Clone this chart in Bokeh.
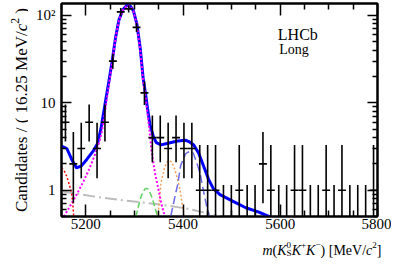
import math
from bokeh.plotting import figure
from bokeh.layouts import column, row
from bokeh.models import Label, LinearAxis, LogAxis, FixedTicker, CustomJSTickFormatter
from bokeh.embed import file_html
from bokeh.resources import INLINE

# ---------------- data ----------------
bin_lo = 5150.0
bin_width = 16.25
counts = [6, 2, 3, 6, 3, 6, 30, 110, 119, 73, 13, 4, 4, 3, 4, 3, 3, 1, 1, 1,
          0, 0, 1, 0, 0, 2, 1, 0, 0, 1, 1, 0, 0, 1, 0, 1, 0, 0, 0, 1]

total_m = [5150, 5161, 5171, 5181, 5191, 5202, 5215, 5224, 5231, 5240, 5247, 5254, 5261,
           5268, 5276, 5285, 5292, 5298, 5305, 5312, 5318, 5323, 5327, 5332, 5339, 5345,
           5355, 5369, 5389, 5405, 5412, 5422, 5432, 5442, 5452, 5462, 5476, 5502, 5529,
           5556, 5573, 5590]
total_v = [3.2, 3.0, 2.25, 1.8, 1.9, 2.25, 2.8, 3.4, 5.0, 10, 17, 29.5, 55,
           88, 116, 132, 127, 113, 80, 42, 19, 12.5, 8.6, 5.6, 4.1, 3.5,
           3.3, 3.45, 3.65, 3.73, 3.6, 3.3, 2.66, 1.9, 1.35, 1.05, 0.89, 0.75, 0.63,
           0.56, 0.51, 0.47]

signal_m = [5155, 5165, 5175, 5185, 5195, 5208, 5215, 5222, 5228, 5232, 5236, 5240, 5247,
            5254, 5261, 5268, 5276, 5285, 5292, 5298, 5305, 5312, 5318, 5323, 5327, 5331,
            5335, 5342, 5349, 5355, 5362]
signal_v = [0.5, 0.62, 0.78, 0.98, 1.25, 1.8, 2.25, 2.85, 3.6, 4.4, 5.8, 8.3, 15.5,
            28.5, 54, 87, 114, 131, 126, 112, 78, 40, 17.5, 11.6, 7.4, 4.8,
            2.9, 1.6, 1.05, 0.72, 0.51]

red_m = [5150, 5155, 5161, 5168, 5171, 5173, 5175]
red_v = [1.8, 1.69, 1.43, 1.06, 0.9, 0.73, 0.51]

comb_m = [5150, 5215, 5282, 5349, 5405, 5453, 5476]
comb_v = [0.97, 0.85, 0.76, 0.69, 0.62, 0.54, 0.5]

green_m = [5303, 5312, 5317, 5323, 5328, 5332, 5337, 5342, 5347]
green_v = [0.5, 0.79, 0.95, 1.05, 1.03, 0.94, 0.8, 0.64, 0.51]

orange_m = [5349, 5352, 5355, 5362, 5367, 5372, 5377, 5382, 5387, 5392, 5396, 5399, 5402]
orange_v = [0.54, 0.85, 1.25, 1.82, 2.1, 2.18, 2.08, 1.8, 1.45, 1.13, 0.85, 0.65, 0.52]

bdash_m = [5375, 5385, 5389, 5395, 5405, 5409, 5415, 5421, 5425, 5431, 5436, 5442, 5449, 5454]
bdash_v = [0.51, 0.93, 1.16, 1.9, 2.6, 2.7, 2.8, 2.65, 2.3, 1.85, 1.47, 0.98, 0.64, 0.51]

x_major = [5200, 5400, 5600, 5800]
x_minor = [5150, 5250, 5300, 5350, 5450, 5500, 5550, 5650, 5700, 5750]
y_major = [1, 10, 100]
y_minor = [0.5, 0.6, 0.7, 0.8, 0.9, 2, 3, 4, 5, 6, 7, 8, 9, 20, 30, 40, 50, 60, 70, 80, 90]

# ---------------- Poisson (Garwood) error bars ----------------
ALPHA = 0.158655


def pois_cdf(n, mu):
    term = math.exp(-mu)
    s = term
    for k in range(1, n + 1):
        term *= mu / k
        s += term
    return s


def solve(f, target, lo, hi):
    for _ in range(200):
        mid = 0.5 * (lo + hi)
        if f(mid) > target:
            lo = mid
        else:
            hi = mid
    return 0.5 * (lo + hi)


def interval(n):
    if n == 0:
        return 0.0, -math.log(2 * ALPHA)
    up = solve(lambda mu: pois_cdf(n, mu), ALPHA, 0.0, n + 10 * math.sqrt(n) + 10)
    lo = solve(lambda mu: pois_cdf(n - 1, mu), 1 - ALPHA, 0.0, n + 1.0)
    return lo, up


centers = [bin_lo + bin_width * (i + 0.5) for i in range(len(counts))]
ylow, yhigh = [], []
for n in counts:
    lo, up = interval(n)
    ylow.append(max(lo, 1e-3))
    yhigh.append(up)

hx0 = [c - bin_width / 2 for c, n in zip(centers, counts) if n > 0]
hx1 = [c + bin_width / 2 for c, n in zip(centers, counts) if n > 0]
hy = [n for n in counts if n > 0]

# ---------------- main figure ----------------
FONT = "Liberation Serif"
MAIN_H = 235
LEFT_W = 28
p = figure(width=391 - LEFT_W, height=MAIN_H, x_range=(5150, 5800), y_range=(0.5, 137),
           y_axis_type="log", output_backend="svg", toolbar_location=None, title=None,
           min_border_left=61 - LEFT_W, min_border_right=14, min_border_top=3,
           min_border_bottom=19)
p.xgrid.visible = False
p.ygrid.visible = False
p.outline_line_color = "black"
p.outline_line_width = 2
p.background_fill_color = "white"
p.border_fill_color = "white"

xt = FixedTicker(ticks=x_major, minor_ticks=x_minor)
yt = FixedTicker(ticks=y_major, minor_ticks=y_minor)


def style_axis(ax, ticker, maj, mnr, labels, standoff):
    ax.ticker = ticker
    ax.axis_line_color = "black"
    ax.axis_line_width = 2
    ax.major_tick_in = maj
    ax.major_tick_out = 0
    ax.minor_tick_in = mnr
    ax.minor_tick_out = 0
    ax.major_tick_line_width = 1.5
    ax.minor_tick_line_width = 1.5
    ax.major_tick_line_color = "black"
    ax.minor_tick_line_color = "black"
    ax.major_label_text_font = FONT
    ax.major_label_text_color = "black"
    ax.axis_label = None
    if labels:
        ax.major_label_text_font_size = "15px"
        ax.major_label_standoff = standoff
    else:
        ax.formatter = CustomJSTickFormatter(code="return '';")
        ax.major_label_text_font_size = "1px"
        ax.major_label_standoff = 0


style_axis(p.xaxis[0], xt, 12, 6, True, 2)
style_axis(p.yaxis[0], yt, 10, 5, True, 6)
p.yaxis[0].formatter = CustomJSTickFormatter(
    code="return tick > 50 ? '10\u00b2' : String(Math.round(tick));")

top = LinearAxis()
style_axis(top, xt, 12, 6, False, 0)
p.add_layout(top, "above")
right = LogAxis()
style_axis(right, yt, 10, 5, False, 0)
p.add_layout(right, "right")

# curves
p.line(total_m, total_v, line_color="#0000ff", line_width=3)
p.line(comb_m, comb_v, line_color="#bdbdbd", line_width=2, line_dash="12 4 2 4")
p.line(red_m, red_v, line_color="#ff0000", line_width=1.5, line_dash="2 2")
p.line(green_m, green_v, line_color="#5fcf5f", line_width=1.5, line_dash="6 3")
p.line(orange_m, orange_v, line_color="#f5a05a", line_width=1.5, line_dash="2 2")
p.line(bdash_m, bdash_v, line_color="#6a6ae6", line_width=1.5, line_dash="8 4")
p.line(signal_m, signal_v, line_color="#ff00ff", line_width=2, line_dash="2 2")

# data points
p.segment(x0=centers, y0=ylow, x1=centers, y1=yhigh, line_color="black", line_width=1.6)
p.segment(x0=hx0, y0=hy, x1=hx1, y1=hy, line_color="black", line_width=1.6)

p.add_layout(Label(x=5595, y=137, y_offset=-31, text="LHCb", text_font=FONT,
                   text_font_size="16px", text_color="black", text_baseline="alphabetic"))
p.add_layout(Label(x=5598, y=137, y_offset=-46, text="Long", text_font=FONT,
                   text_font_size="14px", text_color="black", text_baseline="alphabetic"))

# ---------------- rich-text titles ----------------
WREG = {' ': 250, '(': 333, ')': 333, '/': 278, '.': 250, 'C': 667, 'a': 444, 'n': 500,
        'd': 500, 'i': 278, 't': 278, 'e': 444, 's': 389, 'M': 889, 'V': 722, '[': 333,
        ']': 333, '+': 564, '\u2212': 564, 'S': 556}
WIT = {'m': 722, 'K': 667, 'c': 444}


def text_w(t, style, size):
    tab = WIT if style == "italic" else WREG
    return sum(tab.get(ch, 500) for ch in t) * size / 1000.0


def rich(fig, pieces, x, y, angle=0.0, align="left"):
    total = sum(text_w(t, st, sz) for (t, sz, st, sh, adv) in pieces if adv)
    pos = -total if align == "right" else 0.0
    for t, sz, st, sh, adv in pieces:
        lead = len(t) - len(t.lstrip(' '))
        wl = lead * 250 * sz / 1000.0
        txt = t.strip(' ')
        if txt:
            if angle == 0.0:
                xo, yo = pos + wl, sh
            else:
                xo, yo = -sh, pos + wl
            fig.add_layout(Label(x=x, y=y, x_offset=xo, y_offset=yo, text=txt, angle=angle,
                                 text_font=FONT, text_font_style=st,
                                 text_font_size="%.1fpx" % sz, text_color="black",
                                 text_baseline="alphabetic", text_align="left"))
        if adv:
            pos += text_w(t, st, sz)


def blank_fig(w, h):
    f = figure(width=w, height=h, x_range=(0, w), y_range=(0, h), output_backend="svg",
               toolbar_location=None, x_axis_location=None, y_axis_location=None,
               title=None, min_border=0)
    f.grid.visible = False
    f.outline_line_color = None
    f.background_fill_color = "white"
    f.border_fill_color = "white"
    return f


# y title (left strip)
ypanel = blank_fig(LEFT_W, MAIN_H)
FY = 17
SY = FY * 0.68
ytitle = [("Candidates / ( 16.25 MeV/", FY, "normal", 0, True),
          ("c", FY, "italic", 0, True), ("2", SY, "normal", FY * 0.33, True),
          (" )", FY, "normal", 0, True)]
rich(ypanel, ytitle, 20.5, MAIN_H - 5, math.pi / 2, "right")

# x title (bottom strip)
XH = 258 - MAIN_H
xpanel = blank_fig(391, XH)
FX = 14
SX = FX * 0.65
UP = FX * 0.38
DN = -FX * 0.15
xtitle = [("m", FX, "italic", 0, True), ("(", FX, "normal", 0, True),
          ("K", FX, "italic", 0, True), ("0", SX, "normal", UP, False),
          ("S", SX, "normal", DN, True), ("K", FX, "italic", 0, True),
          ("+", SX, "normal", UP, True), ("K", FX, "italic", 0, True),
          ("\u2212", SX, "normal", UP, True), (")", FX, "normal", 0, True),
          (" [MeV/", FX, "normal", 0, True), ("c", FX, "italic", 0, True),
          ("2", SX, "normal", UP, True), ("]", FX, "normal", 0, True)]
rich(xpanel, xtitle, 381, 8, 0.0, "right")

layout = column(row(ypanel, p, spacing=0), xpanel, spacing=0)

open("out.html", "w").write(file_html(layout, INLINE))
